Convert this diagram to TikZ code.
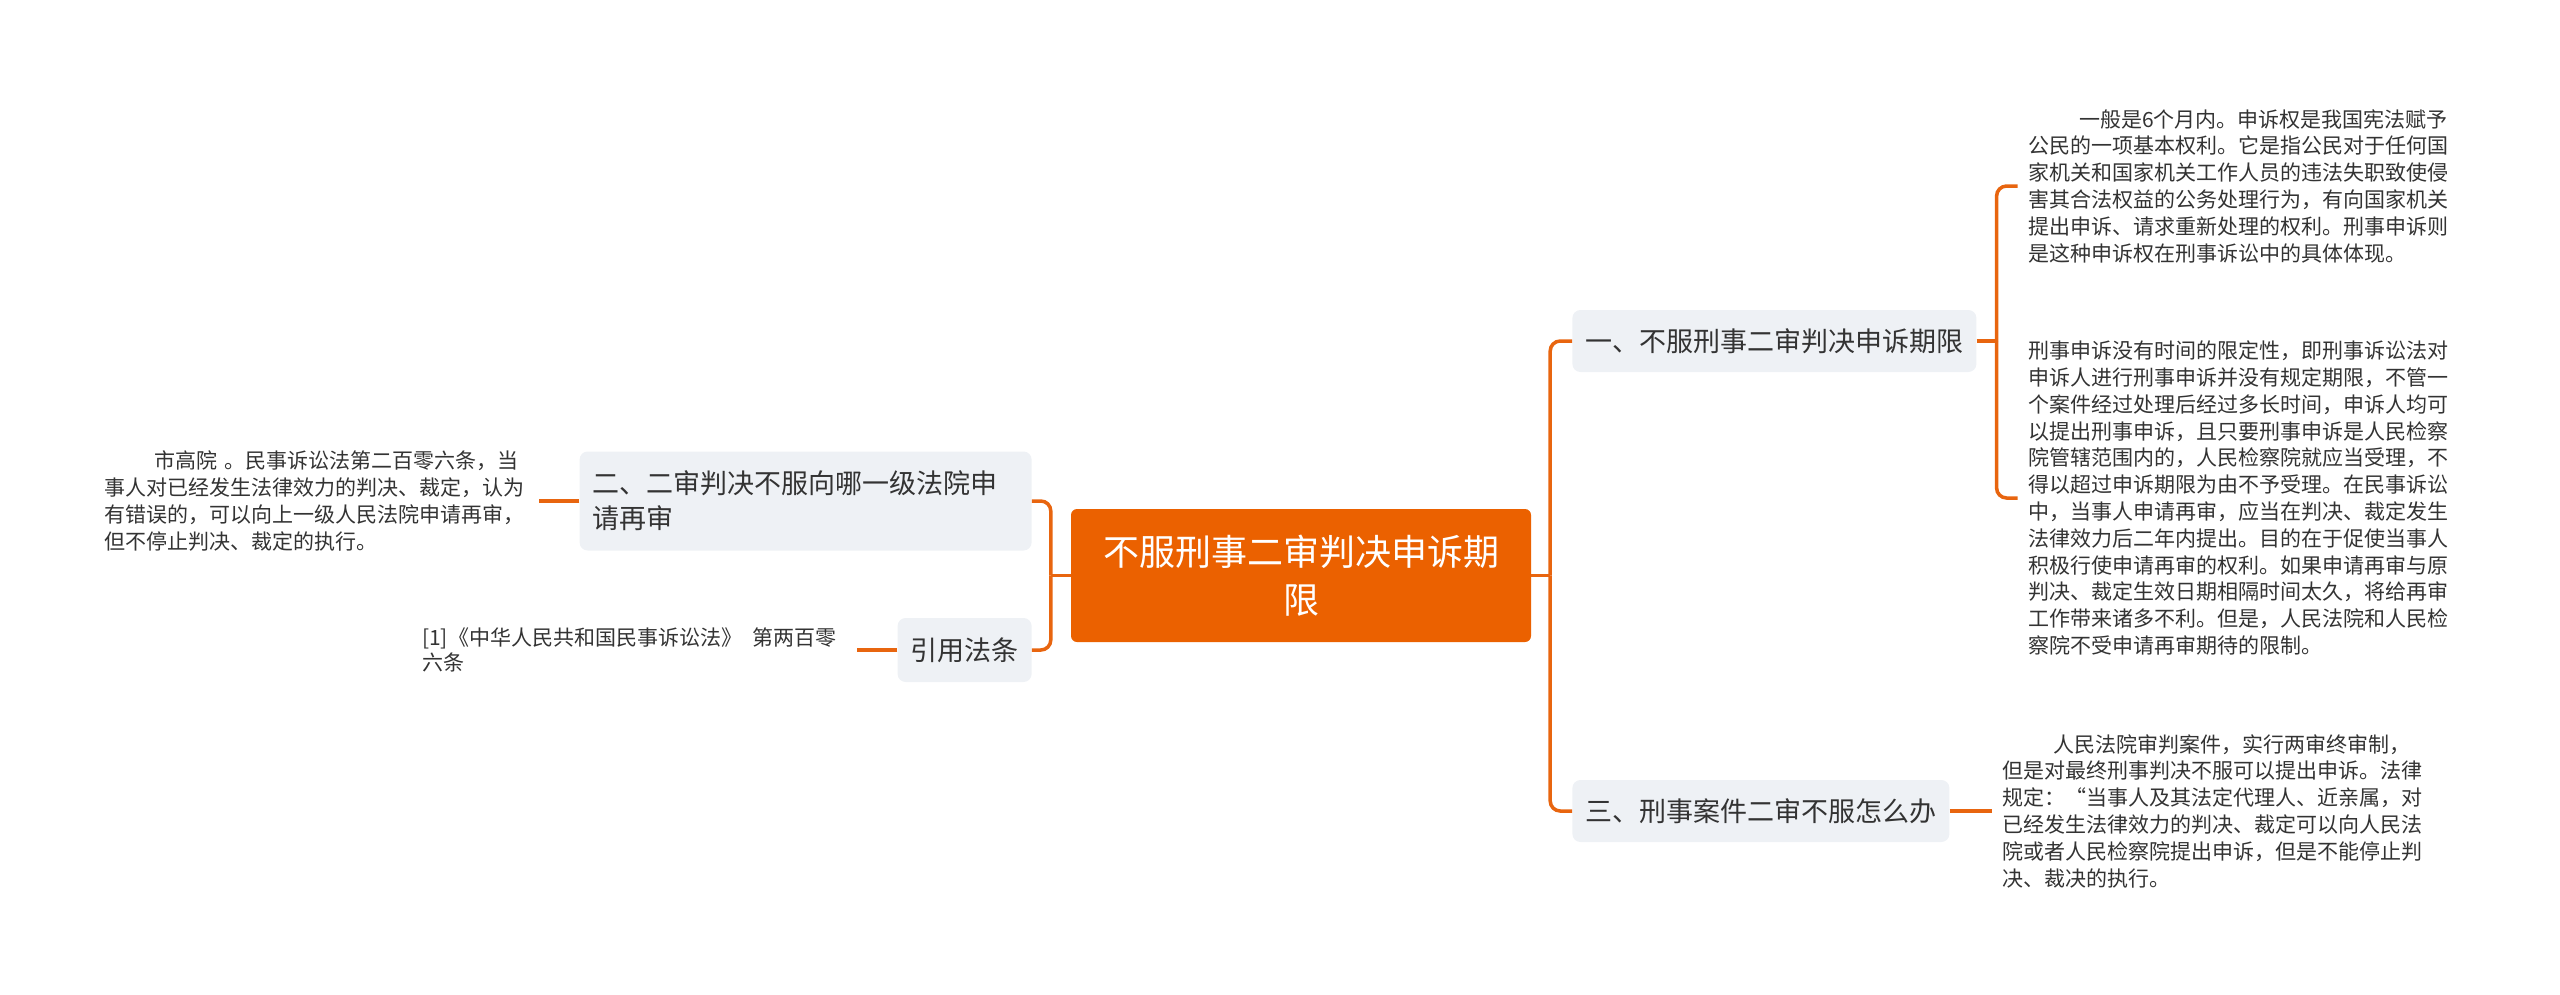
\documentclass[tikz,border=0pt]{standalone}
\usepackage{fontspec}
\setmainfont{Noto Sans CJK SC}
\usepackage{tikz}
\usetikzlibrary{positioning, calc}
\definecolor{mapor}{HTML}{EB6100}
\definecolor{linkor}{HTML}{E8650F}
\definecolor{topicbg}{HTML}{EEF1F5}
\definecolor{inkgray}{HTML}{333333}
\tikzset{
    rootnode/.style={rectangle, rounded corners=6pt, fill=mapor, text=white, minimum width=460pt, minimum height=133pt, text width=400pt, align=center, font=\fontsize{36}{48}\selectfont},
    topic/.style={rectangle, rounded corners=8pt, fill=topicbg, text=inkgray, inner xsep=13pt, inner ysep=8pt, minimum height=62pt, font=\fontsize{27}{35}\selectfont},
    leaftext/.style={text=inkgray, inner xsep=11pt, inner ysep=0pt, text width=424pt, align=left, font=\fontsize{21}{26.8}\selectfont},
    citetext/.style={leaftext, font=\fontsize{21}{25}\selectfont},
    link/.style={draw=linkor, line width=3.5pt, rounded corners=10pt},
}
\begin{document}
\begin{tikzpicture}[x=1pt, y=-1pt]
        \useasboundingbox (0,0) rectangle (2560,994);

        % Root
        \node[rootnode] (root) at (1301,575.5) {不服刑事二审判决申诉期\\限};

        % Right branches
        \node[topic, right=41pt of root, yshift=234.5pt] (limit) {一、不服刑事二审判决申诉期限};
        \node[topic, right=41pt of root, yshift=-235.5pt] (whatdo) {三、刑事案件二审不服怎么办};

        % Left branches
        \node[topic, left=39pt of root, yshift=74.5pt, text width=426pt, align=left, minimum height=99pt] (court) {二、二审判决不服向哪一级法院申\\请再审};
        \node[topic, left=39pt of root, yshift=-74.5pt, minimum height=64pt] (cite) {引用法条};

        % Leaves
        \node[leaftext, right=41pt of limit, yshift=155pt] (limitA) {\hspace*{2.4em}一般是6个月内。申诉权是我国宪法赋予\\
公民的一项基本权利。它是指公民对于任何国\\
家机关和国家机关工作人员的违法失职致使侵\\
害其合法权益的公务处理行为，有向国家机关\\
提出申诉、请求重新处理的权利。刑事申诉则\\
是这种申诉权在刑事诉讼中的具体体现。};
        \node[leaftext, right=41pt of limit, yshift=-157pt] (limitB) {刑事申诉没有时间的限定性，即刑事诉讼法对\\
申诉人进行刑事申诉并没有规定期限，不管一\\
个案件经过处理后经过多长时间，申诉人均可\\
以提出刑事申诉，且只要刑事申诉是人民检察\\
院管辖范围内的，人民检察院就应当受理，不\\
得以超过申诉期限为由不予受理。在民事诉讼\\
中，当事人申请再审，应当在判决、裁定发生\\
法律效力后二年内提出。目的在于促使当事人\\
积极行使申请再审的权利。如果申请再审与原\\
判决、裁定生效日期相隔时间太久，将给再审\\
工作带来诸多不利。但是，人民法院和人民检\\
察院不受申请再审期待的限制。};
        \node[leaftext, right=42pt of whatdo] (whatdoA) {\hspace*{2.4em}人民法院审判案件，实行两审终审制，\\
但是对最终刑事判决不服可以提出申诉。法律\\
规定：“当事人及其法定代理人、近亲属，对\\
已经发生法律效力的判决、裁定可以向人民法\\
院或者人民检察院提出申诉，但是不能停止判\\
决、裁决的执行。};
        \node[leaftext, left=40pt of court] (courtA) {\hspace*{2.4em}市高院 。民事诉讼法第二百零六条，当\\
事人对已经发生法律效力的判决、裁定，认为\\
有错误的，可以向上一级人民法院申请再审，\\
但不停止判决、裁定的执行。};
        \node[citetext, left=40pt of cite] (citeA) {[1]《中华人民共和国民事诉讼法》\hspace{0.5em}第两百零\\
六条};

        % Connectors
        \coordinate (rjoin) at ($(root.east)+(19,0)$);
        \coordinate (ljoin) at ($(root.west)+(-20,0)$);
        \coordinate (limitjoin) at ($(limit.east)+(20,0)$);
        \draw[link] (root.east) -- (rjoin);
        \draw[link] (rjoin) |- (limit.west);
        \draw[link] (rjoin) |- (whatdo.west);
        \draw[link] (root.west) -- (ljoin);
        \draw[link] (ljoin) |- (court.east);
        \draw[link] (ljoin) |- (cite.east);
        \draw[link] (limit.east) -- (limitjoin);
        \draw[link] (limitjoin) |- (limitA.west);
        \draw[link] (limitjoin) |- (limitB.west);
        \draw[link] (whatdo.east) -- (whatdoA.west);
        \draw[link] (court.west) -- (courtA.east);
        \draw[link] (cite.west) -- (citeA.east);
    \end{tikzpicture}
\end{document}
